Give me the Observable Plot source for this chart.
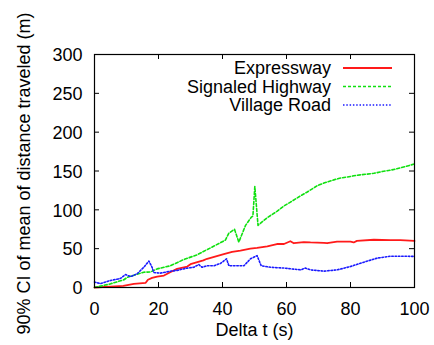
<!DOCTYPE html>
<html>
<head>
<meta charset="utf-8">
<script src="https://cdn.jsdelivr.net/npm/d3@7"></script>
<script src="https://cdn.jsdelivr.net/npm/@observablehq/plot@0.6"></script>
<style>
  html, body { margin: 0; padding: 0; background: #fff; }
  #chart { width: 434px; height: 345px; }
</style>
</head>
<body>
<div id="chart"></div>
<script>
// ---- data ----
const seriesNames = ["Expressway", "Signaled Highway", "Village Road"];

const expX = [0, 5, 9, 12.3, 16, 16.7, 18, 19.6, 21.7, 23.8, 25.8, 29, 30, 34, 35.2, 40.4, 43, 45.6, 48.7, 50.8, 54, 55, 57, 59.2, 61.2, 62.3, 65.4, 67.5, 71.7, 72.7, 75.8, 78, 80, 81, 82, 87.3, 92.5, 95.6, 100];
const expY = [0, 1, 2, 4.7, 6, 10, 12.4, 14, 15.4, 20, 24, 27, 30, 35, 37, 43, 46, 47.6, 50, 51, 53, 54, 56, 56, 59.6, 57, 58.5, 58, 57.5, 57, 59, 59, 59, 58, 60, 61.5, 61, 61, 60];

const sigX = [0, 5, 9.2, 10.2, 15.4, 17.5, 19.6, 23.75, 27.9, 32, 36.25, 40.9, 42, 43.75, 45.1, 47.2, 49, 49.5, 50.1, 51.1, 54, 57, 59.2, 61.25, 64.4, 66.5, 69.6, 71.7, 74.8, 77, 80, 82, 85.2, 87.3, 90.4, 92.5, 95.6, 100];
const sigY = [0, 4.7, 10, 13, 19.7, 20, 24, 28, 36, 42, 51, 61, 70, 75, 58.5, 80, 90.5, 92, 130, 80, 90, 98, 105, 110, 118, 123, 131, 134.6, 138.6, 141, 143, 144.5, 146, 147, 149.7, 151, 154, 159];

const vilX = [0, 1.9, 5, 8.1, 9.7, 11.25, 13.3, 15.4, 17, 18, 18.5, 20.6, 23.75, 25.8, 27.4, 29, 31, 32.6, 33.6, 35.2, 37.3, 39.4, 41.25, 42, 44.6, 46.7, 48.75, 50.8, 52.1, 55, 59.2, 64.4, 65.9, 67.5, 71.7, 75.8, 80, 84.2, 88.3, 92.5, 96.7, 100];
const vilY = [7, 5, 9, 11.6, 16.7, 14, 17.6, 26, 34, 26, 19.3, 18.5, 21, 22, 23.6, 25, 26, 29.6, 26, 28, 28, 31, 37, 28, 28, 28, 37, 41, 28, 26, 25, 22.7, 25, 22.7, 21, 22.7, 27, 32.6, 37.8, 40.3, 40.3, 40];

const xTicks = [0, 20, 40, 60, 80, 100];
const yTicks = [0, 50, 100, 150, 200, 250, 300];
const xLabel = "Delta t (s)";
const yLabel = "90% CI of mean of distance traveled (m)";

// ---- styles ----
const colors = ["#ff1a1a", "#10e010", "#1a1aff"];
const widths = [1.8, 1.6, 1.6];
const dashes = [null, "3,2", "1.5,1.8"];

const toRows = (xs, ys) => xs.map((x, i) => ({x, y: ys[i]}));
const seriesData = [toRows(expX, expY), toRows(sigX, sigY), toRows(vilX, vilY)];

const W = 434, H = 345;
const mL = 94, mR = 20, mT = 54, mB = 58;
const innerW = W - mL - mR, innerH = H - mT - mB;
const tick = 5;

const plot = Plot.plot({
  width: W, height: H,
  marginLeft: mL, marginRight: mR, marginTop: mT, marginBottom: mB,
  style: {fontSize: "18px", fontFamily: "'Liberation Sans', Arial, sans-serif", background: "#fff", color: "#000"},
  x: {domain: [0, 100]},
  y: {domain: [0, 300]},
  marks: [
    ...seriesData.map((d, i) => Plot.line(d, {
      x: "x", y: "y", stroke: colors[i], strokeWidth: widths[i],
      strokeDasharray: dashes[i] ?? undefined
    })),
    Plot.ruleX(xTicks, {x: d => d, insetTop: innerH - tick, stroke: "#000"}),
    Plot.ruleX(xTicks, {x: d => d, insetBottom: innerH - tick, stroke: "#000"}),
    Plot.ruleY(yTicks, {y: d => d, insetRight: innerW - tick, stroke: "#000"}),
    Plot.ruleY(yTicks, {y: d => d, insetLeft: innerW - tick, stroke: "#000"}),
    Plot.frame({stroke: "#000", strokeWidth: 1.2}),
    Plot.axisX(xTicks, {tickSize: 0, tickPadding: 15, label: null}),
    Plot.axisY(yTicks, {tickSize: 0, tickPadding: 12, label: null, dy: 1}),
    Plot.text([xLabel], {text: d => d, frameAnchor: "bottom", dy: 48}),
    Plot.text([yLabel], {text: d => d, frameAnchor: "left", textAnchor: "middle", lineAnchor: "middle", rotate: -90, dx: -70, dy: 2.5})
  ]
});

// ---- legend (inside plot, top right) ----
const svg = d3.select(plot);
const legendTextX = 331, lineX1 = 343, lineX2 = 392;
const rowY = [68, 86.5, 105];
const lg = svg.append("g").attr("font-size", 18).attr("font-family", "'Liberation Sans', Arial, sans-serif");
seriesNames.forEach((name, i) => {
  lg.append("text").attr("x", legendTextX).attr("y", rowY[i]).attr("dy", "0.35em")
    .attr("text-anchor", "end").attr("fill", "#000").text(name);
  const ln = lg.append("line").attr("x1", lineX1).attr("x2", lineX2)
    .attr("y1", rowY[i]).attr("y2", rowY[i])
    .attr("stroke", colors[i]).attr("stroke-width", widths[i]);
  if (dashes[i]) ln.attr("stroke-dasharray", dashes[i]);
});

document.getElementById("chart").appendChild(plot);
</script>
</body>
</html>
